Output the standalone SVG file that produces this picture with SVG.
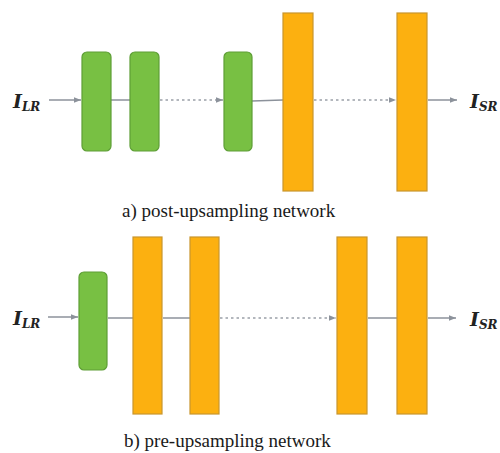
<svg xmlns="http://www.w3.org/2000/svg" width="500" height="453" viewBox="0 0 500 453">
<style>
.g{fill:#78c043;stroke:#5e9e36;stroke-width:1.2}
.o{fill:#fcb010;stroke:#c9962e;stroke-width:1.2}
.l{stroke:#8c929b;stroke-width:1.5;fill:none}
.d{stroke:#9aa0a8;stroke-width:1.5;fill:none;stroke-dasharray:2.5 3}
.m{font-family:"DejaVu Serif","Liberation Serif",serif;font-style:italic;font-weight:bold;fill:#222}
.cap{font-family:"Liberation Serif","DejaVu Serif",serif;font-size:19px;fill:#1a1a1a}
</style>
<defs>
<marker id="ah" viewBox="0 0 10 10" refX="10" refY="5" markerWidth="7" markerHeight="7" orient="auto" markerUnits="userSpaceOnUse">
<path d="M0,1 L10,5 L0,9 z" fill="#8c929b"/>
</marker>
</defs>
<g id="connectors">
<line class="l" x1="49" y1="100" x2="81" y2="100" marker-end="url(#ah)"/>
<line class="l" x1="111" y1="100" x2="130" y2="100"/>
<line class="d" x1="160" y1="100" x2="223" y2="100" marker-end="url(#ah)"/>
<line class="l" x1="252" y1="101" x2="283" y2="100"/>
<line class="d" x1="314" y1="100" x2="396" y2="100" marker-end="url(#ah)"/>
<line class="l" x1="428" y1="100" x2="457" y2="100" marker-end="url(#ah)"/>
<line class="l" x1="48" y1="317" x2="78" y2="317" marker-end="url(#ah)"/>
<line class="l" x1="108" y1="318" x2="133" y2="318"/>
<line class="l" x1="163" y1="318" x2="190" y2="318"/>
<line class="d" x1="220" y1="318" x2="336" y2="318" marker-end="url(#ah)"/>
<line class="l" x1="368" y1="318" x2="397" y2="318"/>
<line class="l" x1="428" y1="318" x2="456" y2="318" marker-end="url(#ah)"/>
</g>
<g id="a-in"><text class="m" x="13" y="108" font-size="19">I<tspan font-size="12" dy="3">LR</tspan></text></g>
<g id="a-g1"><rect class="g" x="82" y="52" width="29" height="99" rx="5"/></g>
<g id="a-g2"><rect class="g" x="130" y="52" width="29" height="99" rx="5"/></g>
<g id="a-g3"><rect class="g" x="224" y="52" width="28" height="99" rx="5"/></g>
<g id="a-o1"><rect class="o" x="283" y="13" width="30" height="178"/></g>
<g id="a-o2"><rect class="o" x="397" y="13" width="30" height="178"/></g>
<g id="a-out"><text class="m" x="470" y="108" font-size="19">I<tspan font-size="12" dy="3">SR</tspan></text></g>
<g id="a-cap"><text class="cap" x="122" y="217">a)  post-upsampling network</text></g>
<g id="b-in"><text class="m" x="13" y="325" font-size="19">I<tspan font-size="12" dy="3">LR</tspan></text></g>
<g id="b-g1"><rect class="g" x="79" y="272" width="28" height="98" rx="5"/></g>
<g id="b-o1"><rect class="o" x="133" y="237" width="29" height="177"/></g>
<g id="b-o2"><rect class="o" x="190" y="237" width="29" height="177"/></g>
<g id="b-o3"><rect class="o" x="337" y="237" width="30" height="177"/></g>
<g id="b-o4"><rect class="o" x="397" y="237" width="30" height="177"/></g>
<g id="b-out"><text class="m" x="470" y="326" font-size="19">I<tspan font-size="12" dy="3">SR</tspan></text></g>
<g id="b-cap"><text class="cap" x="124" y="447">b)  pre-upsampling network</text></g>
</svg>
